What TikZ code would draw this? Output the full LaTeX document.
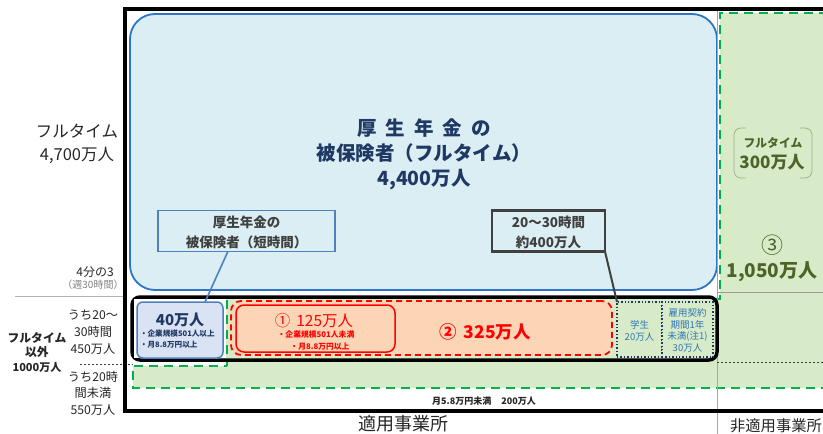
\documentclass[tikz,border=0pt]{standalone}
\usepackage{fontspec}
\setmainfont{Noto Sans CJK JP}
\usetikzlibrary{calc}
\definecolor{lblue}{HTML}{DAEEF3}
\definecolor{bblue}{HTML}{2E75C6}
\definecolor{cblue}{HTML}{4F81BD}
\definecolor{navy}{HTML}{1F3864}
\definecolor{lgreen}{HTML}{D8EBC9}
\definecolor{dgreen}{HTML}{00B050}
\definecolor{peach}{HTML}{FBD5B5}
\definecolor{lav}{HTML}{DAE3F3}
\definecolor{olive}{HTML}{4F6228}
\definecolor{oliveline}{HTML}{A3AA88}
\definecolor{dgray}{HTML}{404040}
\definecolor{txtblue}{HTML}{2E75B6}
\definecolor{txt}{HTML}{262626}
\begin{document}
\begin{tikzpicture}[x=1pt,y=-1pt,
  box/.style={minimum width=#1,inner sep=0pt,outer sep=0pt},
  lbl/.style={inner sep=0pt,outer sep=0pt,align=center,text=txt},
  dotbox/.style={draw=navy,line width=1.4pt,dotted,fill=lgreen,inner sep=0pt,outer sep=0pt}]
\useasboundingbox (0,0) rectangle (823,434);
% green region
\fill[lgreen] (227,299) -- (720,299) -- (720,13) -- (830,13) -- (830,388) -- (133,388) -- (133,366) -- (227,366) -- cycle;
\draw[dgreen,line width=2.5pt,dash pattern=on 9pt off 6pt] (227,366) -- (227,299) -- (720,299) -- (720,13) -- (830,13);
\draw[dgreen,line width=2.5pt,dash pattern=on 9pt off 6pt] (830,388) -- (133,388) -- (133,366) -- (227,366);
% big blue box
\node[box=587pt,minimum height=276pt,rounded corners=25pt,fill=lblue,draw=bblue,line width=1.8pt] (bigblue) at (423.5,152) {};
\node[lbl,text=navy,font=\fontsize{19.5}{25}\selectfont\bfseries] (bigtxt) at (424,154)
  {厚\hspace{9pt}生\hspace{9pt}年\hspace{9pt}金\hspace{9pt}の\\被保険者（フルタイム）\\4,400万人};
% grid lines
\draw[gray!70,line width=0.8pt] (717,8) -- (717,434);
\draw[gray!60,line width=1pt] (15,296) -- (125,296);
\draw[gray!80,line width=0.8pt] (717,292) -- (823,292);
\draw[dgray,line width=0.6pt,dash pattern=on 2pt off 2pt] (80,364) -- (133,364);
\draw[dgray,line width=0.6pt,dash pattern=on 2pt off 2pt] (717,362) -- (823,362);
% outer frame
\draw[black,line width=3.5pt] (823,9) -- (125,9) -- (125,411) -- (823,411);
% callouts
\node[box=177pt,minimum height=41pt,fill=lblue,draw=cblue,line width=1.6pt] (shortbox) at (246.5,231) {};
\node[lbl,text=dgray,font=\fontsize{13.5}{20}\selectfont\bfseries] (shorttxt) at (246.5,232) {厚生年金の\\被保険者（短時間）};
\node[box=113pt,minimum height=41pt,fill=lblue,draw=dgray,line width=2.2pt] (hrsbox) at (548.5,231) {};
\node[lbl,text=dgray,font=\fontsize{13.5}{20}\selectfont\bfseries] (hrstxt) at (548.5,232) {20～30時間\\約400万人};
% black box group
\node[box=585pt,minimum height=63pt,rounded corners=8pt,fill=lgreen,draw=black,line width=3.5pt] (blackbox) at (424.5,328.5) {};
\fill[white] (134,299) rectangle (226,358);
\draw[dgreen,line width=2.5pt,dash pattern=on 9pt off 6pt] (227,300) -- (227,358);
\node[box=86pt,minimum height=56pt,rounded corners=6pt,fill=lav,draw=cblue,line width=1.5pt] (box40) at (180,330) {};
\node[lbl,text=navy,font=\fontsize{15}{18}\selectfont\bfseries] (t40) at (180,320) {40万人};
\node[lbl,text=navy,align=left,anchor=west,font=\fontsize{7.6}{11}\selectfont\bfseries] (t40b) at (140,339) {・企業規模501人以上\\・月8.8万円以上};
\node[box=381pt,minimum height=54pt,rounded corners=10pt,fill=peach,draw=red,line width=1.8pt,dash pattern=on 6pt off 4pt] (orangebox) at (421.5,328) {};
\node[box=159pt,minimum height=47pt,rounded corners=8pt,draw=red,line width=1.5pt] (box125) at (315.5,328.5) {};
\node[lbl,text=red,font=\fontsize{15.5}{18}\selectfont] (t125) at (314,321) {①\hspace{6pt}125万人};
\node[lbl,text=red,font=\fontsize{7.8}{12}\selectfont\bfseries] (t125b) at (316,341) {・企業規模501人未満\\\hspace{8pt}・月8.8万円以上};
\node[lbl,text=red,font=\fontsize{17.5}{20}\selectfont\bfseries] (t325) at (485,332) {②\hspace{7pt}325万人};
\node[dotbox,minimum width=45pt,minimum height=55pt] (student) at (639.5,329.5) {};
\node[lbl,text=txtblue,font=\fontsize{9.5}{12}\selectfont] (tstudent) at (639.5,331) {学生\\20万人};
\node[dotbox,minimum width=51pt,minimum height=55pt] (contract) at (687.5,329.5) {};
\node[lbl,text=txtblue,font=\fontsize{9.5}{11.6}\selectfont] (tcontract) at (687.5,330.5) {雇用契約\\期間1年\\未満(注1)\\30万人};
% connectors
\draw[cblue,line width=1.6pt] ($(shortbox.south west)!0.395!(shortbox.south east)$) -- ($(box40.north)+(25,0)$);
\draw[dgray,line width=2pt] (hrsbox.south east) -- (student.north west);
% right region
\draw[oliveline,line width=0.7pt,rounded corners=7pt] (746,128) -- (734,128) -- (734,178) -- (746,178);
\draw[oliveline,line width=0.7pt,rounded corners=7pt] (800,128) -- (812,128) -- (812,178) -- (800,178);
\node[lbl,text=olive,font=\fontsize{11.8}{15}\selectfont\bfseries] (tft) at (773,143) {フルタイム};
\node[lbl,text=olive,font=\fontsize{17}{20}\selectfont\bfseries] (t300) at (772,162) {300万人};
\node[lbl,text=olive,font=\fontsize{22}{24}\selectfont] (t3) at (772,245) {③};
\node[lbl,text=olive,font=\fontsize{19}{22}\selectfont\bfseries] (t1050) at (772,272) {1,050万人};
% left labels
\node[lbl,font=\fontsize{16.5}{23}\selectfont] (tfull) at (77,144) {フルタイム\\4,700万人};
\node[lbl,font=\fontsize{12}{14}\selectfont] (tq) at (95,272) {4分の3};
\node[lbl,text=gray,font=\fontsize{10}{12}\selectfont] (tw) at (93,285) {（週30時間）};
\node[lbl,font=\fontsize{12.2}{17}\selectfont] (t2030) at (93,332) {うち20～\\30時間\\450万人};
\node[lbl,font=\fontsize{11.8}{14.5}\selectfont\bfseries] (tother) at (37,352) {フルタイム\\以外\\{\fontsize{11}{14}\selectfont 1000万人}};
\node[lbl,font=\fontsize{12.2}{16.5}\selectfont] (tlt20) at (93,393) {うち20時\\間未満\\550万人};
% bottom labels
\node[lbl,font=\fontsize{9}{11}\selectfont\bfseries] (t58) at (484,401) {月5.8万円未満\hspace{10pt}200万人};
\node[lbl,font=\fontsize{18}{20}\selectfont] (tapp) at (403,424) {適用事業所};
\node[lbl,font=\fontsize{15.3}{18}\selectfont] (tnon) at (776,426) {非適用事業所};
\end{tikzpicture}
\end{document}
